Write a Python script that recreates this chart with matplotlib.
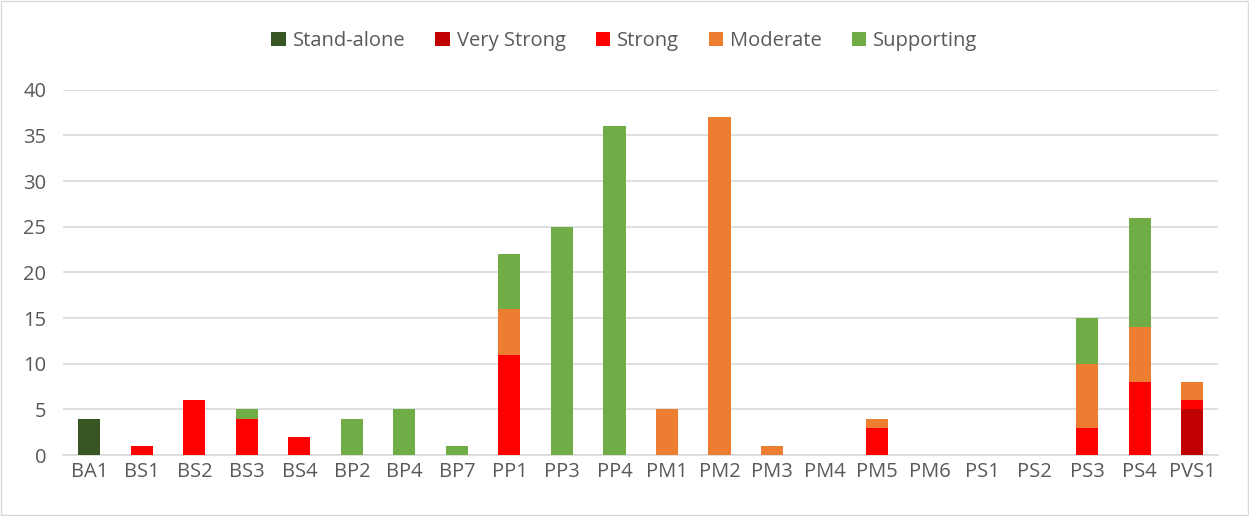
import matplotlib
matplotlib.use("Agg")
import matplotlib.pyplot as plt
import numpy as np

categories = ["BA1", "BS1", "BS2", "BS3", "BS4", "BP2", "BP4", "BP7", "PP1", "PP3", "PP4",
              "PM1", "PM2", "PM3", "PM4", "PM5", "PM6", "PS1", "PS2", "PS3", "PS4", "PVS1"]
stand_alone = [4, 0, 0, 0, 0, 0, 0, 0, 0, 0, 0, 0, 0, 0, 0, 0, 0, 0, 0, 0, 0, 0]
very_strong = [0, 0, 0, 0, 0, 0, 0, 0, 0, 0, 0, 0, 0, 0, 0, 0, 0, 0, 0, 0, 0, 5]
strong      = [0, 1, 6, 4, 2, 0, 0, 0, 11, 0, 0, 0, 0, 0, 0, 3, 0, 0, 0, 3, 8, 1]
moderate    = [0, 0, 0, 0, 0, 0, 0, 0, 5, 0, 0, 5, 37, 1, 0, 1, 0, 0, 0, 7, 6, 2]
supporting  = [0, 0, 0, 1, 0, 4, 5, 1, 6, 25, 36, 0, 0, 0, 0, 0, 0, 0, 0, 5, 12, 0]

series = [("Stand-alone", stand_alone, "#375623"),
          ("Very Strong", very_strong, "#C00000"),
          ("Strong", strong, "#FF0000"),
          ("Moderate", moderate, "#ED7D31"),
          ("Supporting", supporting, "#70AD47")]

plt.rcParams['font.family'] = ['Open Sans', 'DejaVu Sans']
fig = plt.figure(figsize=(12.49, 5.16), dpi=100)
ax = fig.add_axes([0.0505, 0.118, 0.925, 0.708])

x = np.arange(len(categories))
bottom = np.zeros(len(categories))
handles = []
for name, vals, col in series:
    v = np.array(vals, dtype=float)
    b = ax.bar(x, v, 0.42, bottom=bottom, color=col, label=name, zorder=3)
    bottom += v
    handles.append(b)

ax.set_xlim(-0.5, len(categories) - 0.5)
ax.set_ylim(0, 40)
ax.set_yticks(range(0, 41, 5))
ax.set_xticks(x)
ax.set_xticklabels(categories)
ax.yaxis.grid(True, color="#D9D9D9", linewidth=1.2, zorder=0)
for s in ["top", "right", "left"]:
    ax.spines[s].set_visible(False)
ax.spines["bottom"].set_color("#D9D9D9")
ax.spines["bottom"].set_linewidth(1.2)
ax.tick_params(axis="both", length=0, colors="#595959", labelsize=14.5)
ax.tick_params(axis="x", pad=5)
ax.tick_params(axis="y", pad=12)

fig.legend(handles=handles, loc="upper center", bbox_to_anchor=(0.5, 0.975), ncol=5,
           frameon=False, fontsize=14.5, labelcolor="#595959", handlelength=0.7,
           handleheight=0.7, handletextpad=0.35, columnspacing=1.5)

fig.patches.append(matplotlib.patches.Rectangle((0.0008, 0.001), 0.9984, 0.997,
                   transform=fig.transFigure, fill=False, edgecolor="#D9D9D9", linewidth=1))

fig.savefig("out.png", dpi=100)
